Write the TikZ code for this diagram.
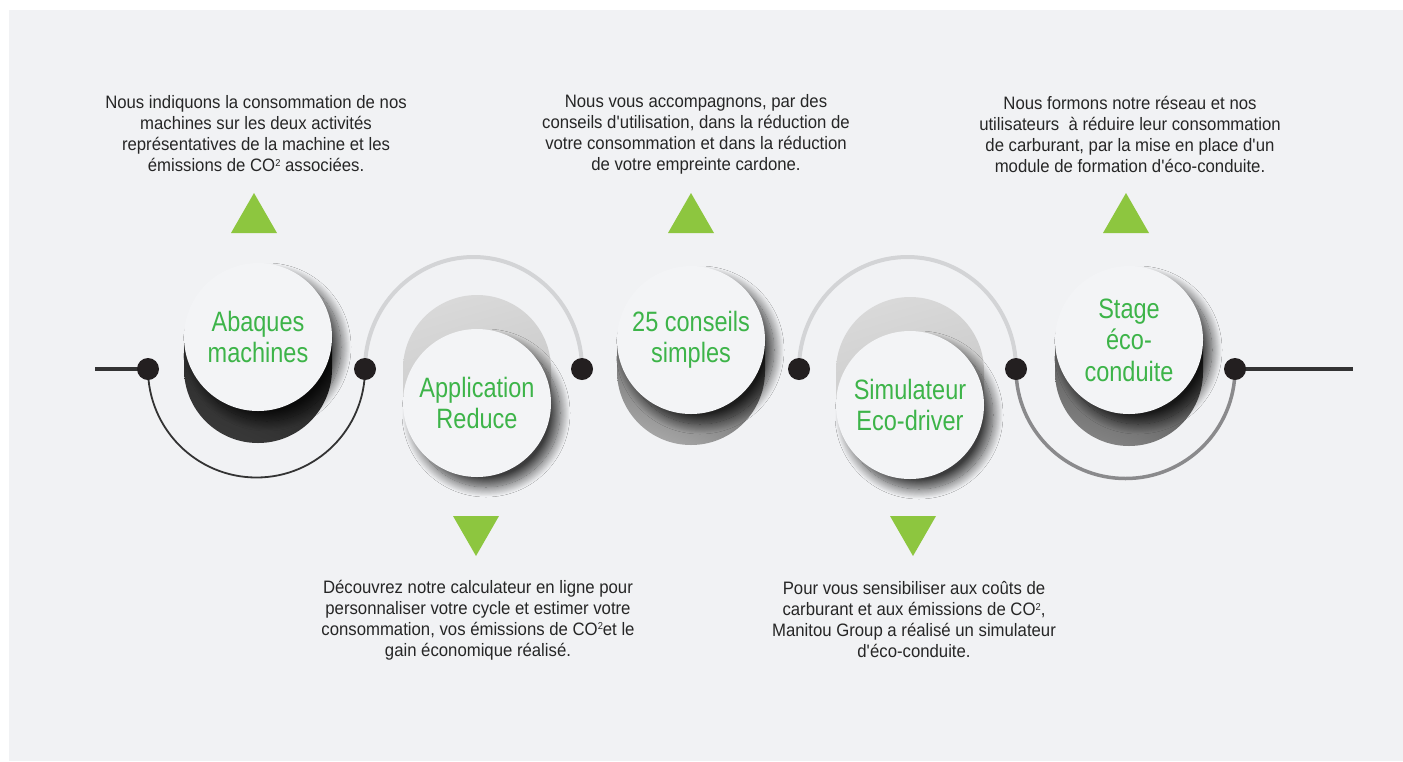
\documentclass[tikz,border=0pt]{standalone}
\usepackage{fontspec}
\setmainfont{Liberation Sans}[FakeStretch=0.93]
\newfontfamily\circfont{Liberation Sans}[FakeStretch=0.84]
\usetikzlibrary{shadows.blur,shadings}
\definecolor{bg}{HTML}{F1F2F4}
\definecolor{circ}{HTML}{F3F4F6}
\definecolor{titlegreen}{HTML}{3DB449}
\definecolor{trig}{HTML}{8DC63F}
\definecolor{txt}{HTML}{262626}
\definecolor{dotc}{HTML}{231F20}
\definecolor{linec}{HTML}{333333}
\definecolor{lightarc}{HTML}{D3D4D6}
\definecolor{grayarc}{HTML}{8A8A8C}
\newcommand{\sqtwo}{{\fontsize{10}{10}\selectfont\raisebox{5.5pt}{2}}}
\begin{document}
\begin{tikzpicture}[x=1pt,y=-1pt,
  bubble/.style={circle, fill=circ, minimum size=148pt, inner sep=0pt,
    text=titlegreen, font=\circfont\fontsize{28}{31.5}\selectfont, align=center,
    blur shadow={shadow xshift=9pt, shadow yshift=-10pt, shadow blur radius=10pt,
      shadow opacity=75, shadow blur steps=20}},
  dotnode/.style={circle, fill=dotc, minimum size=22pt, inner sep=0pt},
  desc/.style={text=txt, font=\fontsize{18}{21}\selectfont, align=center, inner sep=0pt},
  tri/.style={fill=trig},
  darkarc/.style={draw=linec, line width=1.8pt},
  toparc/.style={draw=lightarc, line width=4pt},
  botarc/.style={draw=grayarc, line width=3.5pt},
  hline/.style={draw=linec, line width=4pt}
]
\useasboundingbox (0,0) rectangle (1403,761);
\fill[white] (0,0) rectangle (1403,761);
\fill[bg] (9,10) rectangle (1403,761);

% dot positions
\coordinate (p0) at (148,369);
\coordinate (p1) at (365,369);
\coordinate (p2) at (582,369);
\coordinate (p3) at (799,369);
\coordinate (p4) at (1016,369);
\coordinate (p5) at (1235,369);
\coordinate (lend) at (95,369);
\coordinate (rend) at (1353,369);

% connectors
\draw[hline] (lend) -- (p0);
\draw[hline] (p5) -- (rend);
\draw[darkarc] (p0) arc[start angle=180, end angle=0, radius=108.5];
\draw[toparc] (p1) arc[start angle=180, end angle=360, x radius=108.5, y radius=112];
\draw[toparc] (p3) arc[start angle=180, end angle=360, x radius=108.5, y radius=112];
\draw[botarc] (p4) arc[start angle=180, end angle=0, radius=109.5];

% shadow capsules
\shade[upper left=black!84, upper right=black!88, lower left=black!76, lower right=black!81]
  (184,337) -- (184,369) arc[start angle=180, end angle=0, radius=74] -- (332,337) -- cycle;
\shade[upper left=black!58, upper right=black!76, lower left=black!28, lower right=black!46]
  (617,340) -- (617,371) arc[start angle=180, end angle=0, radius=74] -- (765,340) -- cycle;
\shade[upper left=black!66, upper right=black!82, lower left=black!44, lower right=black!56]
  (1055,340) -- (1055,372) arc[start angle=180, end angle=0, radius=74] -- (1203,340) -- cycle;
\shade[upper left=black!14, upper right=black!16, lower left=black!19, lower right=black!22]
  (403,403) -- (403,369) arc[start angle=180, end angle=360, radius=74] -- (551,403) -- cycle;
\shade[upper left=black!14, upper right=black!16, lower left=black!19, lower right=black!22]
  (836,405) -- (836,371) arc[start angle=180, end angle=360, radius=74] -- (984,405) -- cycle;

% bubbles
\node[bubble] (c1) at (258,337) {Abaques\\machines};
\node[bubble] (c2) at (477,403) {Application\\Reduce};
\node[bubble] (c3) at (691,340) {25 conseils\\simples};
\node[bubble] (c4) at (910,405) {Simulateur\\Eco-driver};
\node[bubble] (c5) at (1129,340) {Stage\\éco-\\conduite};

% dots
\node[dotnode] (d0) at (p0) {};
\node[dotnode] (d1) at (p1) {};
\node[dotnode] (d2) at (p2) {};
\node[dotnode] (d3) at (p3) {};
\node[dotnode] (d4) at (p4) {};
\node[dotnode] (d5) at (p5) {};

% triangles
\fill[tri] (254,193) -- (277,233) -- (231,233) -- cycle;
\fill[tri] (691,193) -- (714,233) -- (668,233) -- cycle;
\fill[tri] (1126,193) -- (1149,233) -- (1103,233) -- cycle;
\fill[tri] (453,516) -- (499,516) -- (476,556) -- cycle;
\fill[tri] (890,516) -- (936,516) -- (913,556) -- cycle;

% descriptions
\node[desc] (t1) at (256,134) {Nous indiquons la consommation de nos\\machines sur les deux activités\\représentatives de la machine et les\\émissions de CO\sqtwo{} associées.};
\node[desc] (t3) at (696,134) {Nous vous accompagnons, par des\\conseils d\textquotesingle utilisation, dans la réduction de\\votre consommation et dans la réduction\\de votre empreinte cardone.};
\node[desc] (t5) at (1130,134) {Nous formons notre réseau et nos\\utilisateurs\ \ à réduire leur consommation\\de carburant, par la mise en place d\textquotesingle un\\module de formation d\textquotesingle éco-conduite.};
\node[desc] (t2) at (478,620) {Découvrez notre calculateur en ligne pour\\personnaliser votre cycle et estimer votre\\consommation, vos émissions de CO\sqtwo{}et le\\gain économique réalisé.};
\node[desc] (t4) at (914,620) {Pour vous sensibiliser aux coûts de\\carburant et aux émissions de CO\sqtwo,\\Manitou Group a réalisé un simulateur\\d\textquotesingle éco-conduite.};
\end{tikzpicture}
\end{document}
